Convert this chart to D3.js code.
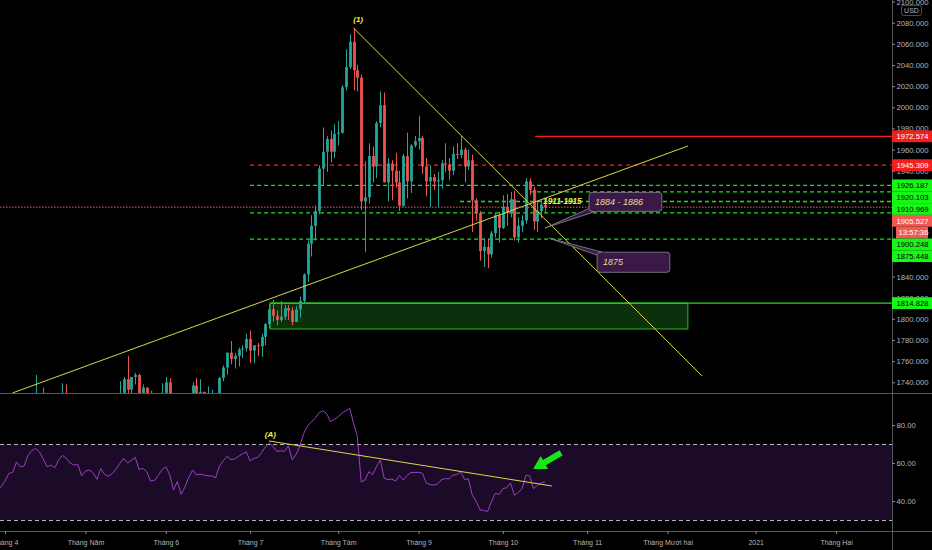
<!DOCTYPE html>
<html><head><meta charset="utf-8">
<script src="https://cdn.jsdelivr.net/npm/d3@7/dist/d3.min.js"></script>
<style>html,body{margin:0;padding:0;background:#000;overflow:hidden}svg{display:block}</style>
</head><body>
<svg id="c" width="932" height="550"></svg>
<script>
// ---------------- DATA ----------------
const firstDay = "2020-03-30";
const lastDay = "2021-02-26";
const skippedDays = ["2020-04-10"];
const opens = [1617,1621,1577,1591,1613,1620,1663,1648,1646,1681,1713,1727,1716,1717,1683,1694,1685,1713,1730,1728,1713,1707,1713,
 1685,1700,1702,1705,1685,1725,1702,1698,1702,1715,1730,1743,1733,1745,1747,1725,1735,1728,1710,1709,1718,
 1730,1740,1727,1700,1714,1685,1698,1715,1737,1729,1731,1725,1727,1727,1722,1744,1754,1768,1762,1765,1771,1772,
 1781,1770,1775,1774,1783,1795,1809,1803,1799,1802,1810,1808,1797,1809,1817,1842,1871,1888,1902,1942,1958,1970,1958,
 1975,1976,2019,2038,2062,2035,2028,1911,1915,1954,1944,1985,2002,1929,1947,1940,1929,1907,1954,1930,1964,
 1968,1971,1944,1930,1934,1930,1931,1947,1946,1940,1956,1955,1960,1944,1950,1912,1900,1864,1868,1861,1881,1898,
 1886,1906,1900,1913,1877,1888,1893,1930,1922,1892,1902,1908];
const highs = [1643,1624,1592,1626,1627,1665,1671,1661,1690,1714,1747,1729,1735,1719,1703,1697,1716,1739,1738,1730,1715,1719,1722,
 1703,1715,1711,1708,1726,1727,1713,1712,1719,1741,1745,1765,1745,1749,1748,1738,1735,1732,1716,1726,1739,
 1745,1744,1729,1719,1727,1700,1718,1740,1744,1743,1731,1736,1733,1729,1745,1756,1768,1779,1768,1773,1775,1786,
 1789,1775,1777,1786,1796,1814,1818,1808,1817,1813,1813,1811,1812,1821,1843,1874,1898,1907,1945,1981,1973,1978,1984,
 1987,2021,2055,2069,2075,2040,2031,1949,1966,1963,1987,2015,2014,1952,1950,1957,1940,1956,1976,1965,1973,
 1992,1973,1952,1945,1937,1939,1950,1966,1952,1963,1966,1973,1962,1960,1955,1914,1902,1876,1876,1883,1900,1901,
 1917,1918,1920,1921,1896,1898,1933,1933,1925,1911,1913,1912];
const lows = [1611,1568,1570,1576,1605,1612,1640,1641,1645,1680,1708,1706,1713,1680,1672,1659,1683,1709,1715,1696,1691,1700,1683,
 1682,1693,1690,1682,1684,1700,1692,1695,1700,1712,1725,1727,1727,1738,1718,1723,1725,1695,1694,1702,1717,
 1722,1720,1693,1697,1670,1678,1698,1710,1721,1724,1705,1716,1718,1711,1721,1741,1747,1757,1753,1755,1763,1769,
 1758,1758,1765,1764,1775,1791,1797,1794,1797,1799,1799,1794,1797,1801,1815,1835,1859,1874,1899,1926,1939,1948,1952,
 1964,1975,2016,2036,2016,2015,1903,1863,1909,1929,1933,1981,1929,1911,1912,1924,1902,1906,1914,1919,1962,
 1960,1937,1916,1906,1922,1906,1923,1939,1931,1936,1951,1952,1929,1941,1882,1893,1855,1849,1848,1858,1877,1872,
 1885,1888,1896,1874,1872,1882,1890,1917,1884,1882,1895,1900];
const closes = [1621,1577,1591,1613,1620,1663,1648,1646,1681,1713,1727,1716,1717,1683,1694,1685,1713,1730,1728,1713,1707,1713,1685,
 1700,1702,1705,1685,1725,1702,1698,1702,1715,1730,1743,1733,1745,1747,1725,1735,1728,1710,1709,1718,1730,
 1740,1727,1700,1714,1685,1698,1715,1737,1729,1731,1725,1727,1727,1722,1744,1754,1768,1762,1765,1771,1772,1781,
 1770,1775,1774,1783,1795,1809,1803,1799,1802,1810,1808,1797,1809,1817,1842,1871,1888,1902,1942,1958,1970,1958,1975,
 1976,2019,2038,2062,2035,2028,1911,1915,1954,1944,1985,2002,1929,1947,1940,1929,1907,1954,1930,1964,1968,
 1971,1944,1930,1934,1930,1931,1947,1946,1940,1956,1955,1960,1944,1950,1912,1900,1864,1868,1861,1881,1898,1886,
 1906,1900,1913,1877,1888,1893,1930,1922,1892,1902,1908,1905.527];
const rsiValues = [46,47.5,50.5,54.5,55,60.5,58,58.5,64,66.5,67.7,65.8,62,58,58.9,57.5,61.6,64,62.5,60,58.9,59.3,53.2,
 55.8,56.3,54.9,51.4,57,54,53,54.5,56.8,59.8,62.5,60,61.5,63,56.5,57.2,55.4,50.5,50.8,53.5,56.5,
 58,54,45.8,50.2,43.5,47.5,52.5,56.3,53.7,54.1,53.6,53.2,53.2,52.2,58.5,61.2,63.5,61.8,62.2,63.5,64.8,65.8,
 61.1,62.5,63,65.5,68.5,70.6,68.6,66.1,66.4,66.2,69,61.6,64.5,69,75.5,79.5,81.6,83.6,86.5,87.5,86,81.8,83,
 84.4,86.3,87.5,88.8,81,74,50,51,55.4,53.9,58.1,61.5,52,51.2,51.5,50.5,53.5,51,53.5,55,55,
 55.1,54.5,49.5,48.6,48.4,49,51.3,51.8,51.6,53.7,53.8,55.4,51.3,51.6,43.1,39.9,35.4,35,34.5,39.5,44,43.5,
 46.5,47,49.5,43,44.5,46.5,53.5,53.2,46.5,48.2,49.5,50.2];
const priceTicks = [1740,1760,1780,1800,1820,1840,1860,1880,1900,1920,1940,1960,1980,2000,2020,2040,2060,2080,2100];
const rsiTicks = [40,60,80];
const rsiBands = [70,30];
const monthKeys = ["2020-04","2020-05","2020-06","2020-07","2020-08","2020-09","2020-10","2020-11","2020-12","2021-01","2021-02"];
const monthLabels = ["Tháng 4","Tháng Năm","Tháng 6","Tháng 7","Tháng Tám","Tháng 9","Tháng 10","Tháng 11","Tháng Mười hai","2021","Tháng Hai"];
const levelPrices = [1972.574,1945.309,1926.187,1920.103,1910.969,1905.527,1900.248,1875.448,1814.828];
const levelKinds  = ["red","red","green","green","green","last","green","green","green"];
const countdown = "13:57:36";
const zoneTop = 1814.828, zoneBottom = 1790.4;
const calloutTexts = ["1884 - 1886","1875"];
const rangeText = "1911-1915";

// ---------------- HELPERS ----------------
function days(){
  const out=[]; const d=new Date(firstDay+"T00:00:00Z"); const end=new Date(lastDay+"T00:00:00Z");
  while(d<=end){const wd=d.getUTCDay(); const s=d.toISOString().slice(0,10);
    if(wd!==0&&wd!==6&&!skippedDays.includes(s)) out.push(s); d.setUTCDate(d.getUTCDate()+1);}
  return out;
}
const dates = days();
const W=932,H=550, AX=892, MAIN_B=393, RSI_T=394, RSI_B=531;
const x = d3.scaleLinear().domain([2, 233.6]).range([5, AX]);
const y = d3.scaleLinear().domain([1740, 2080]).range([382.3, 22.7]);
const yr = d3.scaleLinear().domain([40, 80]).range([501, 425]);
const UP="#26a69a", DN="#ef5350", YEL="#d8d84a", FONT="'Liberation Sans', Arial, sans-serif";

const svg = d3.select("#c");
svg.append("rect").attr("width",W).attr("height",H).attr("fill","#000");
const defs = svg.append("defs");
defs.append("clipPath").attr("id","cm").append("rect").attr("x",0).attr("y",0).attr("width",AX).attr("height",MAIN_B);
defs.append("clipPath").attr("id","cr").append("rect").attr("x",0).attr("y",RSI_T).attr("width",AX).attr("height",RSI_B-RSI_T);

// ---------------- MAIN PANE ----------------
const gm = svg.append("g").attr("clip-path","url(#cm)");
const idx = d3.range(closes.length);

// green zone
gm.append("rect").attr("x",x(71.2)).attr("y",y(zoneTop)).attr("width",x(180.3)-x(71.2)).attr("height",y(zoneBottom)-y(zoneTop))
  .attr("fill","#0b300b").attr("stroke","#22c322").attr("stroke-width",1);

// level lines
const levelStart = [140.4,66,66,139.1,120.8,0,66,66,180.3];
levelPrices.forEach((p,i)=>{
  const k=levelKinds[i];
  const l=gm.append("line").attr("x1",x(levelStart[i])).attr("x2",AX).attr("y1",y(p)).attr("y2",y(p)).attr("stroke-width",1.3);
  if(k==="red"){ l.attr("stroke","#ff1c1c"); if(i===1) l.attr("stroke-dasharray","4,4"); }
  else if(k==="green"){ l.attr("stroke","#1ee01e"); if(i!==8) l.attr("stroke-dasharray","4,3"); }
  else { l.attr("stroke","#ff5a55").attr("stroke-dasharray","1,2"); }
});
gm.append("line").attr("x1",x(71.2)).attr("x2",x(180.3)).attr("y1",y(zoneTop)).attr("y2",y(zoneTop)).attr("stroke","#1ee01e").attr("stroke-width",1.2);

// candles
gm.selectAll("line.w").data(idx).join("line").attr("class","w")
  .attr("x1",i=>Math.round(x(i))+0.5).attr("x2",i=>Math.round(x(i))+0.5)
  .attr("y1",i=>y(highs[i])).attr("y2",i=>y(lows[i]))
  .attr("stroke",i=>closes[i]>=opens[i]?UP:DN).attr("stroke-width",1);
gm.selectAll("rect.b").data(idx).join("rect").attr("class","b")
  .attr("x",i=>Math.round(x(i))+0.5-1.4).attr("width",2.8)
  .attr("y",i=>y(Math.max(opens[i],closes[i])))
  .attr("height",i=>Math.max(1,Math.abs(y(opens[i])-y(closes[i]))))
  .attr("fill",i=>closes[i]>=opens[i]?UP:DN);

// trend lines
gm.append("line").attr("x1",x(93)).attr("y1",y(2075)).attr("x2",x(184)).attr("y2",y(1746)).attr("stroke",YEL).attr("stroke-width",1);
gm.append("line").attr("x1",x(4)).attr("y1",y(1730)).attr("x2",x(180.3)).attr("y2",y(1963.4)).attr("stroke",YEL).attr("stroke-width",1);

// callouts
function callout(x0,x1,p0,p1,tipI,tipP,b1,b2,txt){
  const g=gm.append("g");
  g.append("path").attr("d",`M${x(tipI)},${y(tipP)} L${b1[0]},${b1[1]} L${b2[0]},${b2[1]} Z`)
    .attr("fill","#3a1948").attr("stroke","#8a8a96").attr("stroke-width",0.8);
  g.append("rect").attr("x",x(x0)).attr("y",y(p0)).attr("width",x(x1)-x(x0)).attr("height",y(p1)-y(p0)).attr("rx",3)
    .attr("fill","#3a1948").attr("stroke","#8a8a96").attr("stroke-width",0.8);
  g.append("path").attr("d",`M${b1[0]},${b1[1]} L${b2[0]},${b2[1]}`).attr("stroke","#3a1948").attr("stroke-width",1.6);
  g.append("text").attr("x",x(x0)+6).attr("y",(y(p0)+y(p1))/2+3.2).text(txt)
    .attr("fill","#f0dc96").attr("font-family",FONT).attr("font-size",9).attr("font-style","italic");
}
callout(154.5,173.5,1919.6,1901.6,143,1885.9,[x(154.5)+0.5,y(1904.5)],[x(156.6),y(1901.6)-0.5],calloutTexts[0]);
callout(156.6,175.6,1863,1844,144.1,1876.3,[x(156.6)+0.5,y(1860)],[x(158.5),y(1863)+0.5],calloutTexts[1]);

// yellow texts
gm.append("text").attr("x",x(142.5)).attr("y",y(1910.969)+3).text(rangeText).attr("fill","#f4f44c")
  .attr("font-family",FONT).attr("font-size",8.2).attr("font-weight","bold").attr("font-style","italic");
gm.append("text").attr("x",x(94.2)).attr("y",21.5).attr("text-anchor","middle").text("(1)").attr("fill","#f4f44c")
  .attr("font-family",FONT).attr("font-size",8).attr("font-weight","bold").attr("font-style","italic");

// ---------------- RSI PANE ----------------
const gr = svg.append("g").attr("clip-path","url(#cr)");
gr.append("rect").attr("x",0).attr("width",AX).attr("y",yr(70)).attr("height",yr(30)-yr(70)).attr("fill","#1c0b28");
rsiBands.forEach(v=>gr.append("line").attr("x1",0).attr("x2",AX).attr("y1",Math.round(yr(v))+0.5).attr("y2",Math.round(yr(v))+0.5)
  .attr("stroke","#b4b4c0").attr("stroke-dasharray","4,3").attr("stroke-width",1));
gr.append("path").datum(idx).attr("d",d3.line().x(i=>x(i)).y(i=>yr(rsiValues[i])))
  .attr("fill","none").attr("stroke","#9b3fc0").attr("stroke-width",1);
gr.append("line").attr("x1",x(70.9)).attr("y1",yr(71.6)).attr("x2",x(144.8)).attr("y2",yr(47.9)).attr("stroke",YEL).attr("stroke-width",1);
gr.append("text").attr("x",x(71.3)).attr("y",yr(71.6)-3.5).attr("text-anchor","middle").text("(A)").attr("fill","#f4f44c")
  .attr("font-family",FONT).attr("font-size",8).attr("font-weight","bold").attr("font-style","italic");
// green arrow
(function(){
  const T=[x(147.2),yr(65.3)], Hd=[x(139.9),yr(56.8)];
  const dx=Hd[0]-T[0], dy=Hd[1]-T[1], L=Math.hypot(dx,dy), ux=dx/L, uy=dy/L, nx=-uy, ny=ux;
  const hl=13, hw=7.5, sw=3;
  const B=[Hd[0]-ux*hl, Hd[1]-uy*hl];
  const pts=[[T[0]+nx*sw,T[1]+ny*sw],[B[0]+nx*sw,B[1]+ny*sw],[B[0]+nx*hw,B[1]+ny*hw],Hd,
    [B[0]-nx*hw,B[1]-ny*hw],[B[0]-nx*sw,B[1]-ny*sw],[T[0]-nx*sw,T[1]-ny*sw]];
  gr.append("path").attr("d","M"+pts.map(p=>p.join(",")).join("L")+"Z").attr("fill","#19e619");
})();

// ---------------- FRAME / AXES ----------------
svg.append("line").attr("x1",0).attr("x2",W).attr("y1",MAIN_B+0.5).attr("y2",MAIN_B+0.5).attr("stroke","#55575f");
svg.append("line").attr("x1",0).attr("x2",W).attr("y1",RSI_B+0.5).attr("y2",RSI_B+0.5).attr("stroke","#55575f");
svg.append("line").attr("x1",AX+0.5).attr("x2",AX+0.5).attr("y1",0).attr("y2",H).attr("stroke","#55575f");

// price labels (stacked to avoid overlap) - computed first to hide covered ticks
const LH = 11.8;
const labelItems = levelPrices.map((p,i)=>({p, txt:d3.format(".3f")(p), kind:levelKinds[i], yy:y(p)}));
const li = labelItems.findIndex(d=>d.kind==="last");
labelItems.splice(li+1,0,{p:levelPrices[li]-0.001, txt:countdown, kind:"timer", yy:y(levelPrices[li])+0.01});
labelItems.sort((a,b)=>a.yy-b.yy);
for(let i=1;i<labelItems.length;i++){ if(labelItems[i].yy<labelItems[i-1].yy+LH) labelItems[i].yy=labelItems[i-1].yy+LH; }
// union of label box spans
const spans=[]; labelItems.forEach(d=>{const a=d.yy-LH/2,b=d.yy+LH/2; const s=spans[spans.length-1];
  if(s && a<=s[1]+0.5) s[1]=Math.max(s[1],b); else spans.push([a,b]);});
const covered = v=>{const t=y(v); return spans.some(s=>t-3.5>=s[0]-0.5 && t+3.5<=s[1]+0.5);};
const shownTicks = priceTicks.filter(v=>!covered(v));

const gy = svg.append("g").attr("transform",`translate(${AX},0)`);
gy.call(d3.axisRight(y).tickValues(shownTicks).tickSize(3).tickFormat(d3.format(".3f")));
gy.select(".domain").remove();
gy.selectAll("line").attr("stroke","#888");
gy.selectAll("text").attr("fill","#b2b5be").attr("font-family",FONT).attr("font-size",7.7).attr("x",4.5);

const gyr = svg.append("g").attr("transform",`translate(${AX},0)`);
gyr.call(d3.axisRight(yr).tickValues(rsiTicks).tickSize(3).tickFormat(d3.format(".2f")));
gyr.select(".domain").remove();
gyr.selectAll("line").attr("stroke","#888");
gyr.selectAll("text").attr("fill","#b2b5be").attr("font-family",FONT).attr("font-size",7.7).attr("x",4.5);

// USD box
svg.append("rect").attr("x",901.5).attr("y",5.5).attr("width",20).attr("height",10).attr("rx",2).attr("fill","#000").attr("stroke","#6a6d78").attr("stroke-width",0.7);
svg.append("text").attr("x",911.5).attr("y",13).attr("text-anchor","middle").text("USD").attr("fill","#b2b5be").attr("font-family",FONT).attr("font-size",7);

// time axis
const monthIdx = monthKeys.map(k=>dates.findIndex(d=>d.startsWith(k)));
const gx = svg.append("g").attr("transform",`translate(0,${RSI_B})`);
gx.call(d3.axisBottom(x).tickValues(monthIdx).tickSize(3).tickFormat((d,i)=>monthLabels[i]));
gx.select(".domain").remove();
gx.selectAll("line").attr("stroke","#888");
gx.selectAll("text").attr("fill","#b2b5be").attr("font-family",FONT).attr("font-size",7).attr("y",9);

// draw price labels
const gl = svg.append("g");
labelItems.forEach(d=>{
  const bg = d.kind==="red"?"#f21f1f":d.kind==="green"?"#17f717":"#ef5a55";
  const fg = d.kind==="green"?"#000":"#fff";
  const x0 = d.kind==="timer"?896:AX;
  const w = d.kind==="timer"?32:W-AX;
  gl.append("rect").attr("x",x0).attr("y",d.yy-LH/2).attr("width",w).attr("height",LH).attr("fill",bg);
  gl.append("text").attr("x",x0+(d.kind==="timer"?2.5:4.5)).attr("y",d.yy+2.8).text(d.txt).attr("fill",fg)
    .attr("font-family",FONT).attr("font-size",7.7);
});
</script>
</body></html>
